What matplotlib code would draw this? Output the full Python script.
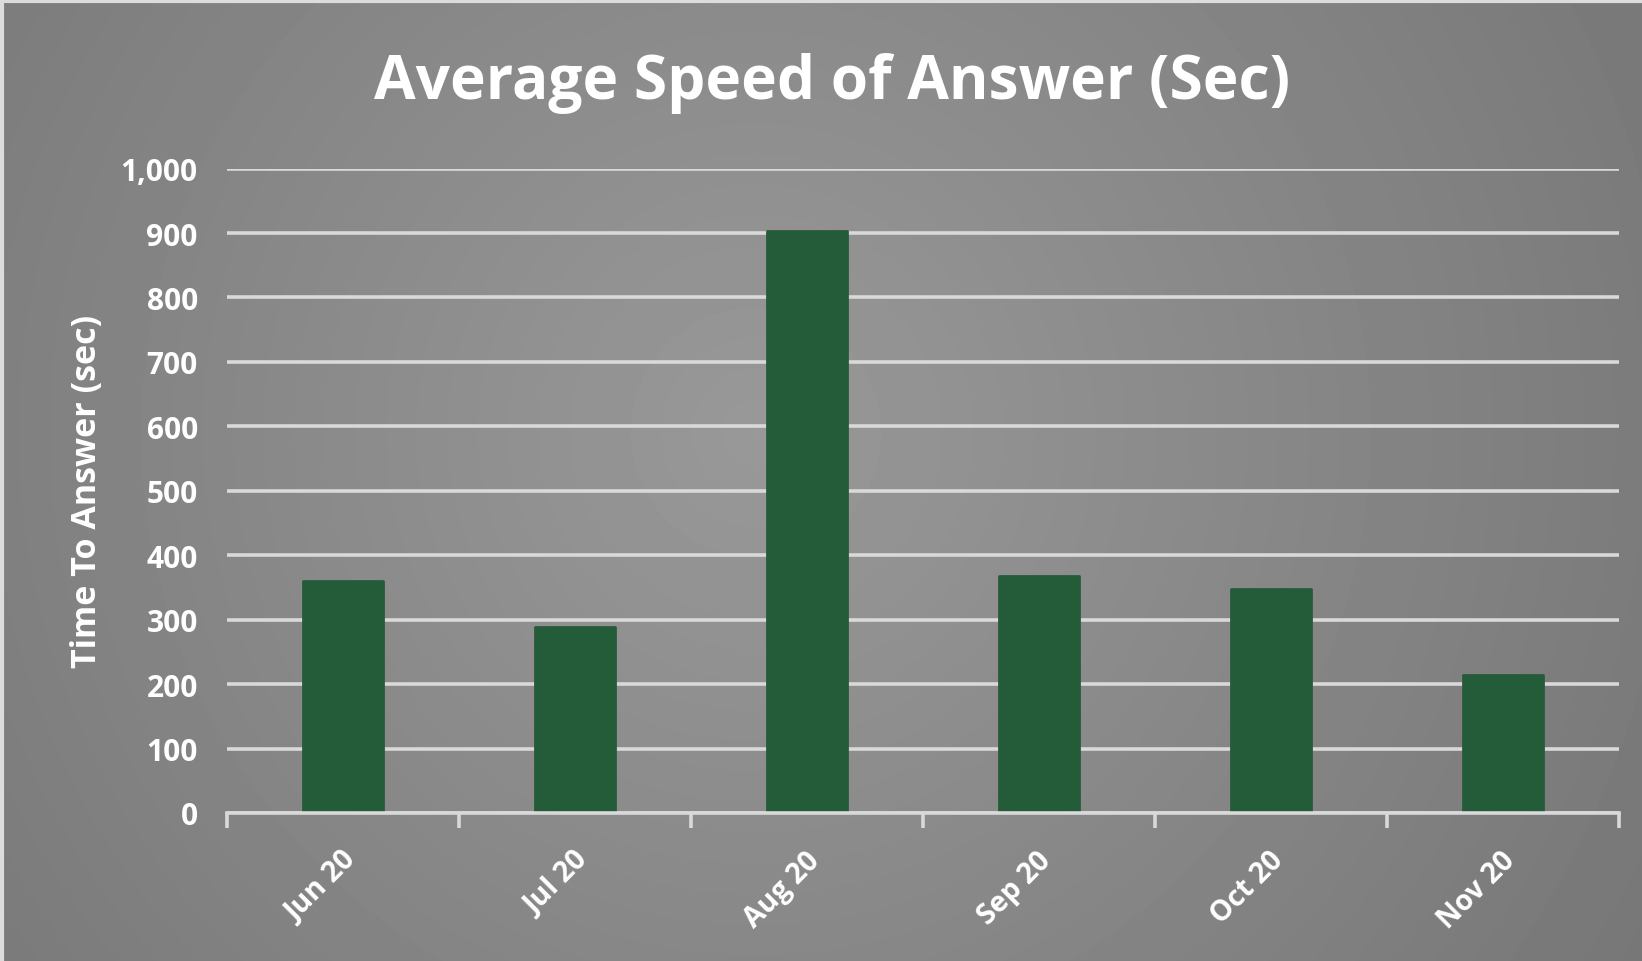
import numpy as np
import matplotlib
matplotlib.use('Agg')
import matplotlib.pyplot as plt
from matplotlib.transforms import offset_copy

months = ['Jun 20', 'Jul 20', 'Aug 20', 'Sep 20', 'Oct 20', 'Nov 20']
answer_secs = [360, 289, 903, 368, 347, 214]
yticks = [0, 100, 200, 300, 400, 500, 600, 700, 800, 900, 1000]

W, H = 1642, 962
DPI = 100
BAR = '#245c39'
GRID = '#d9d9d9'
FONT = 'Open Sans'

fig = plt.figure(figsize=(W / DPI, H / DPI), dpi=DPI)

# radial grey backdrop
bg = fig.add_axes([0, 0, 1, 1], zorder=0)
yy, xx = np.mgrid[0:H, 0:W]
r = np.sqrt(((xx - 0.46 * W) / (0.62 * W)) ** 2 + ((yy - 0.45 * H) / (0.62 * W)) ** 2)
shade = np.clip(0.598 - 0.13 * r, 0, 1)
bg.imshow(shade, cmap='gray', vmin=0, vmax=1, aspect='auto', extent=[0, W, H, 0])
bg.plot([0, W], [1.5, 1.5], color='#dcdcdc', lw=3)
bg.plot([1.5, 1.5], [0, H], color='#dcdcdc', lw=3)
bg.set_xlim(0, W)
bg.set_ylim(H, 0)
bg.axis('off')

ax = fig.add_axes([227 / W, 1 - 814 / H, (1619 - 227) / W, (814 - 169.6) / H], zorder=1)
ax.patch.set_alpha(0)

x = np.arange(len(months))
ax.bar(x, answer_secs, width=0.345, color=BAR, edgecolor=BAR, linewidth=2,
       joinstyle='round', zorder=3)

ax.set_xlim(-0.5, len(months) - 0.5)
ax.set_ylim(0, 1000)
ax.set_yticks(yticks)
ax.set_yticklabels([f'{v:,}' for v in yticks], fontsize=21.5, color='white',
                   fontweight='bold', family=FONT)
ax.yaxis.grid(True, color=GRID, lw=2.6, zorder=0)
ax.set_axisbelow(True)
ax.tick_params(axis='y', length=0, pad=21)

# boundary ticks between months, labels at month centres
ax.set_xticks(np.arange(-0.5, len(months)), minor=True)
ax.set_xticks(x)
ax.tick_params(axis='x', which='minor', length=11, width=2.6, color=GRID, direction='out')
ax.tick_params(axis='x', which='major', length=0)
ax.set_xticklabels(months, rotation=45, ha='right', va='center', rotation_mode='anchor',
                   fontsize=20.5, color='white', fontweight='bold', family=FONT)
for lab in ax.get_xticklabels():
    lab.set_transform(offset_copy(lab.get_transform(), fig=fig, x=8, y=-38, units='dots'))

for s in ['top', 'right', 'left']:
    ax.spines[s].set_visible(False)
ax.spines['bottom'].set_color(GRID)
ax.spines['bottom'].set_linewidth(2.6)
ax.spines['bottom'].set_zorder(4)

ax.set_ylabel('Time To Answer (sec)', fontsize=24.5, color='white', fontweight='bold',
              family=FONT, labelpad=12)

fig.text(832 / W, 1 - 84 / H, 'Average Speed of Answer (Sec)', ha='center', va='center',
         fontsize=43.5, color='white', fontweight='bold', family=FONT)

fig.savefig('out.png', dpi=DPI)
